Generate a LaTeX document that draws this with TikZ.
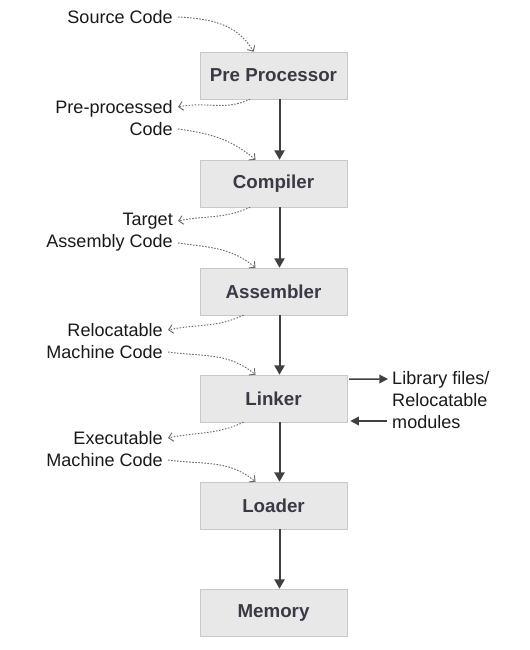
\documentclass[tikz,border=0pt]{standalone}
\usepackage{fontspec}
\setmainfont{Liberation Sans}
\usetikzlibrary{arrows.meta,positioning,calc}
\definecolor{boxfill}{RGB}{232,232,232}
\definecolor{boxline}{RGB}{200,200,200}
\definecolor{boxtext}{RGB}{58,58,70}
\definecolor{flow}{RGB}{64,64,64}
\definecolor{dotgray}{RGB}{105,105,105}

\begin{document}
\begin{tikzpicture}[x=0.03cm, y=-0.03cm,
    stage/.style={draw=boxline, fill=boxfill, minimum width=4.41cm, minimum height=1.41cm, font=\fontsize{16}{19}\selectfont\bfseries, text=boxtext},
    lbl/.style={inner sep=0pt, font=\fontsize{15.4}{18.8}\selectfont, text=black!90},
    arr/.style={-{Triangle[length=2.8mm,width=3mm]}, line width=1.7pt, flow},
    harr/.style={-{Triangle[length=2.6mm,width=2.6mm]}, line width=1.3pt, flow},
    darr/.style={-{Straight Barb[length=1.3mm,width=2.6mm]}, dash pattern=on 1.3pt off 1.3pt, line width=0.8pt, dotgray},
]
\useasboundingbox (0,0) rectangle (529,650);

% Stages
\node[stage] (pre) at (273.5,75.5) {Pre Processor};
\node[stage] (cmp) at (273.5,183.5) {Compiler};
\node[stage] (asm) at (273.5,291.5) {Assembler};
\node[stage] (lnk) at (273.5,398.5) {Linker};
\node[stage] (ldr) at (273.5,505.5) {Loader};
\node[stage] (mem) at (273.5,612.5) {Memory};

% Labels
\node[lbl, anchor=east] (src) at (173,17) {Source Code};
\node[lbl, anchor=east, align=right] (ppc) at (173,118) {Pre-processed\\Code};
\node[lbl, anchor=east, align=right] (tac) at (173,232) {Target\\Assembly Code};
\node[lbl, anchor=east, align=right] (rmc) at (163,341) {Relocatable\\Machine Code};
\node[lbl, anchor=east, align=right] (emc) at (163,449) {Executable\\Machine Code};
\node[lbl, anchor=west, align=left] (lib) at (392,400) {Library files/\\Relocatable\\modules};

% Main flow
\draw[arr] ([xshift=0.18cm]pre.south) -- ([xshift=0.18cm]cmp.north);
\draw[arr] ([xshift=0.18cm]cmp.south) -- ([xshift=0.18cm]asm.north);
\draw[arr] ([xshift=0.18cm]asm.south) -- ([xshift=0.18cm]lnk.north);
\draw[arr] ([xshift=0.18cm]lnk.south) -- ([xshift=0.18cm]ldr.north);
\draw[arr] ([xshift=0.18cm]ldr.south) -- ([xshift=0.18cm]mem.north);

% Library link
\draw[harr] ([yshift=0.58cm, xshift=0.06cm]lnk.east) -- ([yshift=0.63cm, xshift=-0.12cm]lib.west);
\draw[harr] ([yshift=-0.63cm, xshift=-0.15cm]lib.west) -- ([yshift=-0.675cm, xshift=0.09cm]lnk.east);

% Dotted hints
\draw[darr] ([xshift=0.15cm]src.east) to[out=-3, in=120] ([xshift=-0.6cm]pre.north);
\draw[darr] ([xshift=-0.7cm]pre.south) to[out=205, in=12] ([xshift=0.15cm, yshift=0.33cm]ppc.east);
\draw[darr] ([xshift=0.15cm, yshift=-0.33cm]ppc.east) to[out=-8, in=140] ([xshift=-0.54cm]cmp.north);
\draw[darr] ([xshift=-0.7cm]cmp.south) to[out=205, in=12] ([xshift=0.15cm, yshift=0.33cm]tac.east);
\draw[darr] ([xshift=0.15cm, yshift=-0.33cm]tac.east) to[out=-8, in=140] ([xshift=-0.54cm]asm.north);
\draw[darr] ([xshift=-0.9cm]asm.south) to[out=205, in=12] ([xshift=0.15cm, yshift=0.33cm]rmc.east);
\draw[darr] ([xshift=0.15cm, yshift=-0.33cm]rmc.east) to[out=-8, in=140] ([xshift=-0.54cm]lnk.north);
\draw[darr] ([xshift=-0.9cm]lnk.south) to[out=205, in=12] ([xshift=0.15cm, yshift=0.33cm]emc.east);
\draw[darr] ([xshift=0.15cm, yshift=-0.33cm]emc.east) to[out=-8, in=140] ([xshift=-0.54cm]ldr.north);
\end{tikzpicture}
\end{document}
